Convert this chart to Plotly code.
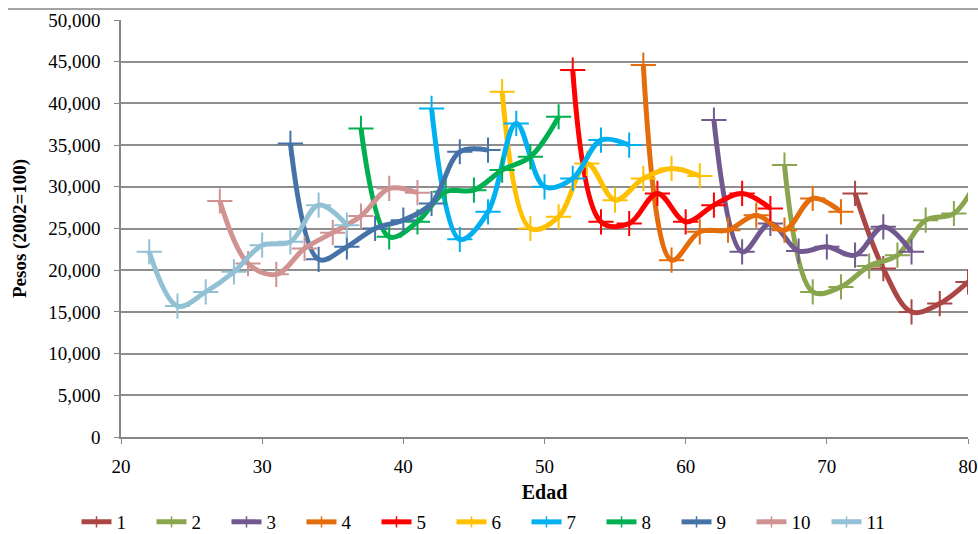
import plotly.graph_objects as go

# ---- data (ages and values in pesos, 2002=100) ----
s1_x = [72, 74, 76, 78, 80]
s1_y = [29200, 20200, 15000, 16000, 18600]
s2_x = [67, 69, 71, 73, 75, 77, 79, 81]
s2_y = [32600, 17400, 18000, 20500, 21800, 26000, 26800, 32000]
s3_x = [62, 64, 66, 68, 70, 72, 74, 76]
s3_y = [38000, 22200, 25600, 22300, 22800, 21800, 25200, 22200]
s4_x = [57, 59, 61, 63, 65, 67, 69, 71]
s4_y = [44600, 21200, 24600, 24800, 26600, 24800, 28600, 27000]
s5_x = [52, 54, 56, 58, 60, 62, 64, 66]
s5_y = [44000, 25800, 25600, 29200, 25800, 27800, 29200, 27400]
s6_x = [47, 49, 51, 53, 55, 57, 59, 61]
s6_y = [41400, 25000, 26400, 32800, 28400, 31000, 32200, 31300]
s7_x = [42, 44, 46, 48, 50, 52, 54, 56]
s7_y = [39400, 23700, 27000, 37600, 30000, 31000, 35600, 35000]
s8_x = [37, 39, 41, 43, 45, 47, 49, 51]
s8_y = [37000, 24000, 25800, 29400, 29600, 32000, 33600, 38400]
s9_x = [32, 34, 36, 38, 40, 42, 44, 46]
s9_y = [35200, 21300, 22800, 25000, 26000, 28000, 34200, 34400]
s10_x = [27, 29, 31, 33, 35, 37, 39, 41]
s10_y = [28300, 20800, 19500, 22600, 24500, 26500, 29800, 29300]
s11_x = [22, 24, 26, 28, 30, 32, 34, 36]
s11_y = [22200, 15700, 17400, 19800, 23000, 23400, 27800, 25400]

series_names = ["1", "2", "3", "4", "5", "6", "7", "8", "9", "10", "11"]
series_x = [s1_x, s2_x, s3_x, s4_x, s5_x, s6_x, s7_x, s8_x, s9_x, s10_x, s11_x]
series_y = [s1_y, s2_y, s3_y, s4_y, s5_y, s6_y, s7_y, s8_y, s9_y, s10_y, s11_y]
colors = ["#AA4643", "#89A54E", "#71588F", "#E46C0A", "#FF0000", "#FFC000",
          "#00B0F0", "#00B050", "#4572A7", "#D09392", "#92C1D5"]

FONT = '"Liberation Serif", "Times New Roman", serif'

fig = go.Figure()
for name, xs, ys, c in zip(series_names, series_x, series_y, colors):
    fig.add_trace(go.Scatter(
        x=xs, y=ys, name=name, mode="lines+markers", showlegend=False,
        line=dict(color=c, width=5, shape="spline", smoothing=1.0),
        marker=dict(symbol="cross-thin", size=18, color=c,
                    line=dict(color=c, width=2)),
    ))
# legend entries (small markers as in the reference legend)
for name, c in zip(series_names, colors):
    fig.add_trace(go.Scatter(
        x=[None], y=[None], name=name, mode="lines+markers",
        line=dict(color=c, width=5),
        marker=dict(symbol="cross-thin", size=8, color=c,
                    line=dict(color=c, width=1.5)),
    ))

fig.update_layout(
    width=978, height=534,
    margin=dict(l=121, r=10, t=20, b=97, autoexpand=False),
    paper_bgcolor="white", plot_bgcolor="white",
    font=dict(family=FONT, size=19, color="black"),
    showlegend=True,
    legend=dict(orientation="h", x=0.5, xanchor="center", xref="container",
                y=(534 - 522) / 534, yanchor="middle", yref="container",
                font=dict(family=FONT, size=19),
                entrywidth=30, tracegroupgap=0,
                bgcolor="rgba(0,0,0,0)"),
    xaxis=dict(range=[20, 80], dtick=10, tick0=20, showgrid=False,
               showline=True, linecolor="#868686", linewidth=1.5,
               ticks="outside", ticklen=5, tickcolor="#868686",
               tickfont=dict(family=FONT, size=19), zeroline=False,
               automargin=False, ticklabelstandoff=6,
               title=dict(text="<b>Edad</b>", font=dict(family=FONT, size=20),
                          standoff=16)),
    yaxis=dict(range=[0, 50000], dtick=5000, tickformat=",",
               showgrid=True, gridcolor="#8e8e8e", gridwidth=1.5,
               showline=True, linecolor="#868686", linewidth=1.5,
               ticks="outside", ticklen=5, tickcolor="#868686",
               tickfont=dict(family=FONT, size=19), zeroline=False,
               automargin=False, ticklabelstandoff=10,
               title=dict(text="<b>Pesos (2002=100)</b>",
                          font=dict(family=FONT, size=19), standoff=17)),
)

# outer chart border (top edge visible in the crop)
fig.add_shape(type="line", xref="paper", yref="paper",
              x0=-113 / 847, x1=1.02, y0=(437 - 9) / 417, y1=(437 - 9) / 417,
              line=dict(color="#868686", width=1.5))

fig.write_html("out.html")
